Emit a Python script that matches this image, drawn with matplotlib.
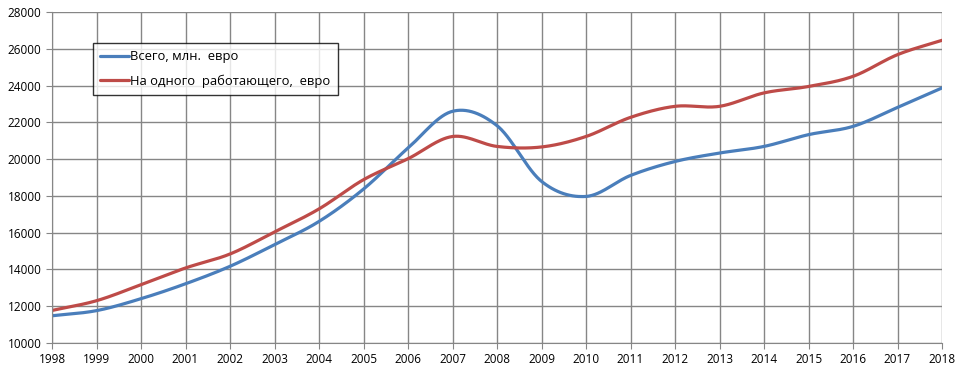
import numpy as np
import matplotlib
matplotlib.use('Agg')
from matplotlib import pyplot as plt

plt.rcParams['font.family'] = ['Open Sans', 'DejaVu Sans']

years = list(range(1998, 2019))
total_mln = [11480, 11760, 12410, 13220, 14170, 15350, 16610, 18370, 20600, 22600,
             21820, 18790, 17970, 19110, 19870, 20330, 20690, 21330, 21780, 22810, 23870]
per_worker = [11770, 12300, 13170, 14080, 14840, 16040, 17290, 18880, 20020, 21230,
              20690, 20660, 21230, 22270, 22870, 22870, 23600, 23950, 24500, 25680, 26460]
labels = ['Всего, млн.  евро', 'На одного  работающего,  евро']
colors = ['#4A7EBB', '#BE4B48']


def smooth(x, y, n=30):
	# excel-like smoothed line (catmull-rom through every point)
	x = np.asarray(x, float)
	y = np.asarray(y, float)
	px = np.concatenate([[2 * x[0] - x[1]], x, [2 * x[-1] - x[-2]]])
	py = np.concatenate([[2 * y[0] - y[1]], y, [2 * y[-1] - y[-2]]])
	xs, ys = [], []
	t = np.linspace(0, 1, n, endpoint=False)
	for i in range(1, len(px) - 2):
		for arr, out in ((px, xs), (py, ys)):
			p0, p1, p2, p3 = arr[i - 1], arr[i], arr[i + 1], arr[i + 2]
			out.extend(0.5 * (2 * p1 + (-p0 + p2) * t + (2 * p0 - 5 * p1 + 4 * p2 - p3) * t ** 2
			                  + (-p0 + 3 * p1 - 3 * p2 + p3) * t ** 3))
	xs.append(x[-1])
	ys.append(y[-1])
	return np.array(xs), np.array(ys)


fig = plt.figure(figsize=(9.6, 3.76), dpi=100)
ax = fig.add_axes([52 / 960, 1 - 343 / 376, 890 / 960, 331 / 376])

for series, lab, c in zip([total_mln, per_worker], labels, colors):
	sx, sy = smooth(years, series)
	ax.plot(sx, sy, color=c, lw=2.3, label=lab, solid_capstyle='round')

ax.set_xlim(1998, 2018)
ax.set_ylim(10000, 28000)
ax.set_xticks(years)
ax.set_yticks(np.arange(10000, 28001, 2000))
ax.grid(True, color='#868686', lw=1)
ax.set_axisbelow(True)
for s in ['top', 'right']:
	ax.spines[s].set_visible(False)
for s in ['left', 'bottom']:
	ax.spines[s].set_color('#868686')
ax.tick_params(axis='both', colors='#868686', labelcolor='black', labelsize=8.5, length=4)
ax.tick_params(axis='x', pad=3)

leg = ax.legend(loc='upper left', bbox_to_anchor=(0.046, 0.906), borderaxespad=0,
                fontsize=9.4, frameon=True, fancybox=False, handlelength=2.2,
                handletextpad=0.1, labelspacing=0.85, borderpad=0.55)
leg.get_frame().set_edgecolor('black')
leg.get_frame().set_linewidth(1)

fig.savefig('out.png', dpi=100)
